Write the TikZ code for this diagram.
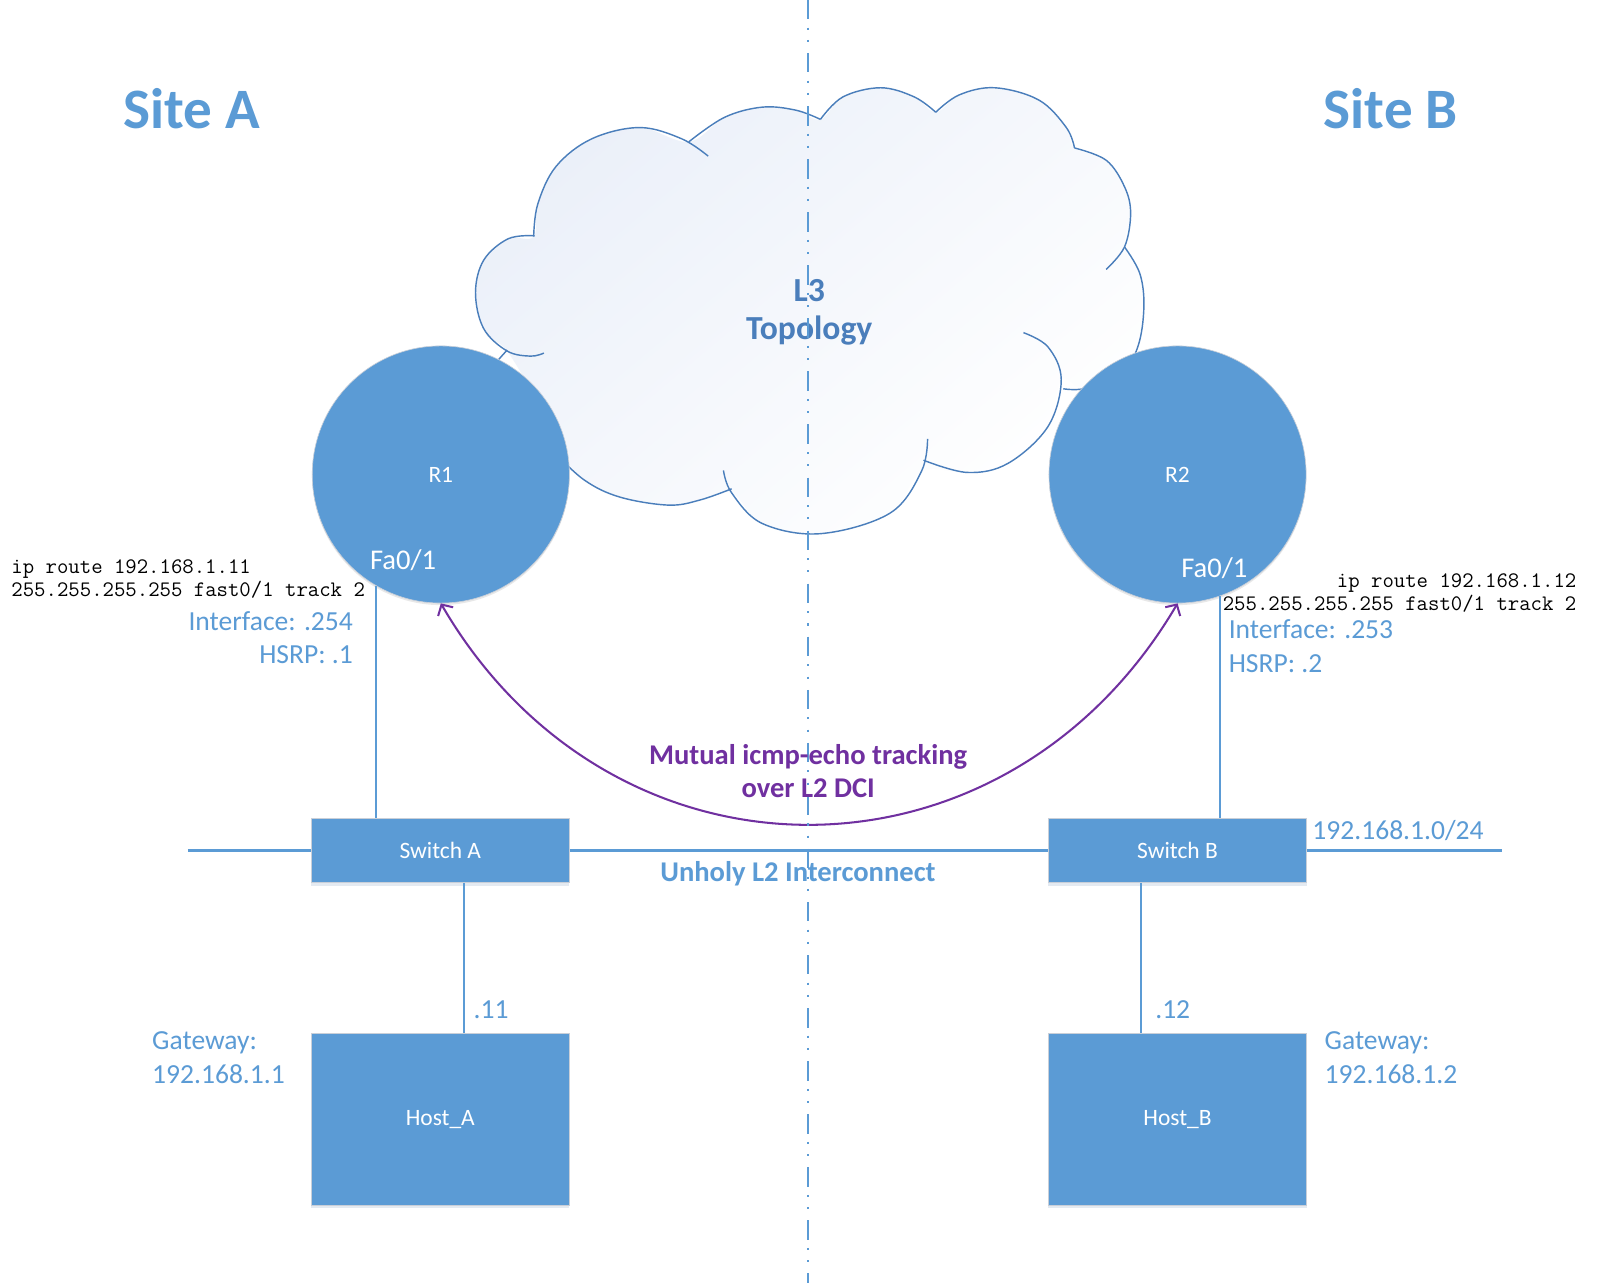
\documentclass[tikz,border=0pt]{standalone}
\usepackage{fontspec}
\setmainfont{Carlito}
\usetikzlibrary{arrows.meta,shadows}
\definecolor{bluef}{HTML}{5B9BD5}
\definecolor{cloudline}{HTML}{4A7EBB}
\definecolor{cloudtop}{HTML}{EBF0F9}
\definecolor{ltext}{HTML}{4A7EBB}
\definecolor{purp}{HTML}{7030A0}
\definecolor{boxedge}{HTML}{C9CFD8}
\begin{document}
\begin{tikzpicture}[x=1pt,y=-1pt,
  txt/.style={inner sep=0pt},
  router/.style={circle, fill=bluef, draw=boxedge, line width=0.6pt, minimum size=252pt, inner sep=0pt,
    text=white, font=\fontsize{23}{27}\selectfont,
    drop shadow={shadow xshift=0pt, shadow yshift=-2pt, opacity=0.18, fill=gray}},
  devbox/.style={rectangle, fill=bluef, draw=boxedge, line width=0.6pt, minimum width=253pt, inner sep=0pt,
    text=white, font=\fontsize{23}{27}\selectfont,
    drop shadow={shadow xshift=0pt, shadow yshift=-3pt, opacity=0.18, fill=bluef!60!gray}},
  switchbox/.style={devbox, minimum height=63pt},
  hostbox/.style={devbox, minimum height=168pt},
  wire/.style={draw=bluef, line width=2pt},
  cloudstroke/.style={draw=cloudline, line width=1.4pt},
  bluetxt/.style={txt, text=bluef, font=\fontsize{27}{32}\selectfont},
  codetxt/.style={txt, text=black, font=\ttfamily\fontsize{21.7}{25}\selectfont},
  facetxt/.style={txt, text=white, font=\fontsize{28}{32}\selectfont},
  purptxt/.style={txt, text=purp, font=\bfseries\fontsize{28}{32}\selectfont},
  track/.style={draw=purp, line width=2pt, {Straight Barb[length=8pt,width=17pt]}-{Straight Barb[length=8pt,width=17pt]}},
]
\useasboundingbox (0,0) rectangle (1568,1257);
\fill[white] (0,0) rectangle (1568,1257);

% ---------- cloud ----------
\shade[top color=cloudtop, bottom color=white, shading angle=40]
  plot[smooth cycle, tension=0.6] coordinates {(466,287) (476,327) (497,344) (530,400) (557,454) (572,470) (607,487) (655,495) (686,490) (717,483) (747,513) (804,523) (872,503) (903,462) (948,463) (988,454) (1027,418) (1040,372) (1062,381) (1097,370) (1115,340) (1121,301) (1117,268) (1102,242) (1108,209) (1102,183) (1084,157) (1053,145) (1045,125) (1018,98) (975,86) (940,93) (917,110) (896,95) (863,86) (826,95) (804,117) (780,108) (747,105) (710,115) (675,139) (627,125) (580,136) (545,163) (527,200) (523,232) (498,234) (474,255)};
\draw[cloudstroke] plot[smooth, tension=0.6] coordinates {(524,231) (498,234) (474,255) (466,287) (474,322) (497,344) (520,349) (533,346)};
\draw[cloudstroke] plot[smooth, tension=0.6] coordinates {(523,232) (527,200) (545,163) (580,136) (627,125) (668,136) (694,153)};
\draw[cloudstroke] plot[smooth, tension=0.6] coordinates {(675,139) (710,115) (747,105) (780,108) (804,117)};
\draw[cloudstroke] plot[smooth, tension=0.6] coordinates {(804,117) (826,95) (863,86) (896,95) (917,110)};
\draw[cloudstroke] plot[smooth, tension=0.6] coordinates {(917,110) (940,93) (975,86) (1018,98) (1045,125) (1053,145)};
\draw[cloudstroke] plot[smooth, tension=0.6] coordinates {(1053,145) (1084,157) (1102,183) (1108,209) (1102,242) (1084,264)};
\draw[cloudstroke] plot[smooth, tension=0.6] coordinates {(1102,242) (1117,268) (1121,301) (1115,340) (1097,370) (1062,381) (1042,381)};
\draw[cloudstroke] plot[smooth, tension=0.6] coordinates {(1003,326) (1027,340) (1040,372) (1027,418) (988,454) (948,463) (905,451)};
\draw[cloudstroke] plot[smooth, tension=0.6] coordinates {(909,430) (903,462) (872,503) (804,523) (747,513) (717,483) (709,461)};
\draw[cloudstroke] plot[smooth, tension=0.6] coordinates {(717,479) (686,490) (655,495) (607,487) (572,470) (540,440)};
\draw[cloudstroke] (497,343) -- (480,362);

\node[txt, anchor=base, text=ltext, font=\bfseries\fontsize{33}{38}\selectfont] (l3a) at (793,295) {L3};
\node[txt, anchor=base, text=ltext, font=\bfseries\fontsize{33}{38}\selectfont] (l3b) at (793,333) {Topology};

% ---------- site titles ----------
\node[txt, anchor=base, text=bluef, font=\bfseries\fontsize{56}{62}\selectfont] (siteA) at (188,126) {Site A};
\node[txt, anchor=base, text=bluef, font=\bfseries\fontsize{56}{62}\selectfont] (siteB) at (1363,126) {Site B};

% ---------- devices ----------
\node[router] (R1) at (432,465) {R1};
\node[router] (R2) at (1154,465) {R2};
\node[switchbox] (swA) at (431.5,833.5) {Switch A};
\node[switchbox] (swB) at (1154,833.5) {Switch B};
\node[hostbox] (hostA) at (431.5,1097) {Host\_A};
\node[hostbox] (hostB) at (1154,1097) {Host\_B};

\node[facetxt, anchor=base] (faA) at (395,558) {Fa0/1};
\node[facetxt, anchor=base] (faB) at (1190,566) {Fa0/1};

% ---------- wires ----------
\coordinate (busL) at (184,833.5);
\coordinate (busR) at (1472,833.5);
\coordinate (hA) at (455,0);
\coordinate (hB) at (1118,0);
\draw[wire] (busL) -- (swA.west);
\draw[wire] (swA.east) -- (swB.west);
\draw[wire] (swB.east) -- (busR);
\draw[wire] (R1.240.6) -- (R1.240.6 |- swA.north);
\draw[wire] (R2.289) -- (R2.289 |- swB.north);
\draw[wire] (swA.south -| hA) -- (hostA.north -| hA);
\draw[wire] (swB.south -| hB) -- (hostB.north -| hB);

% ---------- tracking arc ----------
\draw[track] (R1.south) .. controls (600,880) and (984,880) .. (R2.south);

% ---------- divider ----------
\coordinate (vtop) at (792,0);
\coordinate (vbot) at (792,1257);
\draw[draw=bluef, line width=2.4pt, dash pattern=on 19pt off 8pt on 2pt off 10pt on 2pt off 11pt] (vtop) -- (vbot);

% ---------- labels ----------
\node[codetxt, anchor=base west] (cA1) at (11,562.5) {ip route 192.168.1.11};
\node[codetxt, anchor=base west] (cA2) at (11,584.5) {255.255.255.255 fast0/1 track 2};
\node[codetxt, anchor=base east] (cB1) at (1545,575.5) {ip route 192.168.1.12};
\node[codetxt, anchor=base east] (cB2) at (1545,598.5) {255.255.255.255 fast0/1 track 2};

\node[bluetxt, anchor=base east] (ifA) at (346,617.5) {Interface: .254};
\node[bluetxt, anchor=base east] (hsA) at (346,650.5) {HSRP: .1};
\node[bluetxt, anchor=base west] (ifB) at (1204,625.5) {Interface: .253};
\node[bluetxt, anchor=base west] (hsB) at (1204,659.5) {HSRP: .2};

\node[purptxt, anchor=base] (mt1) at (792,749) {Mutual icmp-echo tracking};
\node[purptxt, anchor=base] (mt2) at (792,782) {over L2 DCI};

\node[txt, anchor=base, text=bluef, font=\bfseries\fontsize{28}{32}\selectfont] (unholy) at (782,864) {Unholy L2 Interconnect};
\node[bluetxt, anchor=base west] (net) at (1286,822.5) {192.168.1.0/24};

\node[bluetxt, anchor=base west] (ipA) at (464,998.5) {.11};
\node[bluetxt, anchor=base west] (ipB) at (1132,998.5) {.12};

\node[bluetxt, anchor=base west] (gwA1) at (149,1028.5) {Gateway:};
\node[bluetxt, anchor=base west] (gwA2) at (149,1061.5) {192.168.1.1};
\node[bluetxt, anchor=base west] (gwB1) at (1298,1028.5) {Gateway:};
\node[bluetxt, anchor=base west] (gwB2) at (1298,1061.5) {192.168.1.2};
\end{tikzpicture}
\end{document}
